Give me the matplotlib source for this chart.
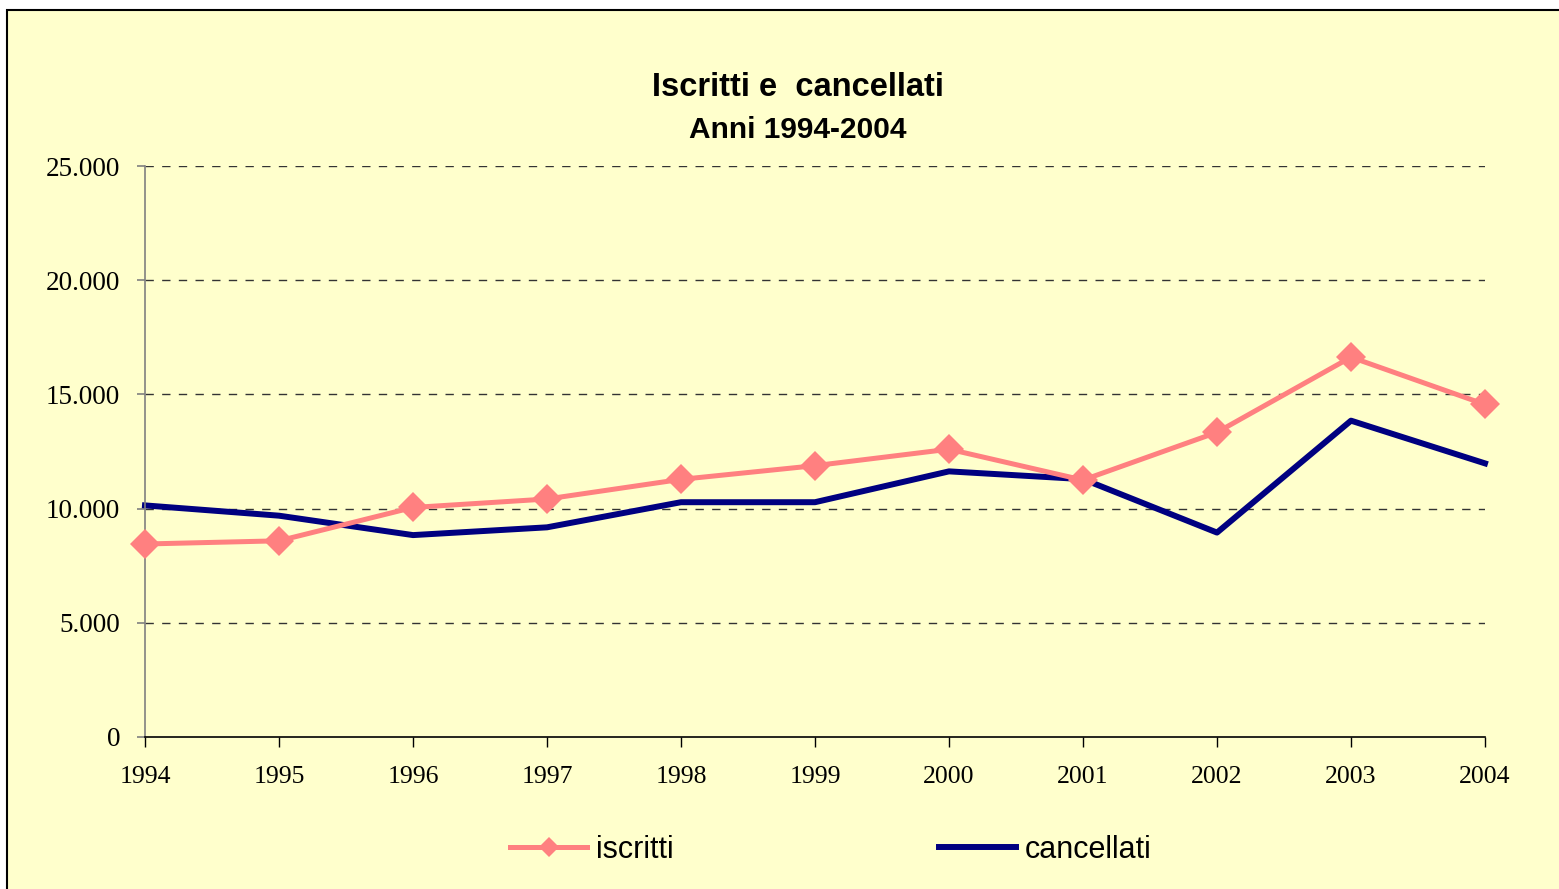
import matplotlib
matplotlib.use("Agg")
import matplotlib.pyplot as plt
from matplotlib.patches import Rectangle
from matplotlib.ticker import FuncFormatter

years = ["1994", "1995", "1996", "1997", "1998", "1999", "2000", "2001", "2002", "2003", "2004"]
iscritti = [8450, 8590, 10050, 10420, 11280, 11880, 12600, 11250, 13340, 16630, 14560]
cancellati = [10140, 9690, 8840, 9180, 10280, 10280, 11630, 11290, 8950, 13850, 11980]

BG = "#FFFFCC"
W, H = 1559, 889
fig = plt.figure(figsize=(W / 100, H / 100), dpi=100, facecolor="white")

# outer chart-area frame
fig.patches.append(Rectangle((7 / W, -0.1), 1.2, 0.1 + 1 - 10 / H, transform=fig.transFigure,
                             facecolor=BG, edgecolor="black", linewidth=1.5, zorder=-10))

ax = fig.add_axes([145 / W, 1 - 737 / H, (1485 - 145) / W, (737 - 166) / H])
ax.set_facecolor("none")

x = list(range(len(years)))
ax.plot(x, iscritti, color="#FF8080", linewidth=3.6, marker="D", markersize=15.5,
        markeredgewidth=0, label="iscritti", zorder=3, clip_on=False)
ax.plot(x, cancellati, color="#000080", linewidth=4.3, label="cancellati", zorder=2,
        clip_on=False)

ax.set_xlim(0, len(years) - 1)
ax.set_ylim(0, 25000)
ax.set_yticks(range(0, 25001, 5000))
ax.yaxis.set_major_formatter(FuncFormatter(lambda v, p: f"{int(v):,}".replace(",", ".")))
ax.set_xticks(x)
ax.set_xticklabels(years)

for v in range(5000, 25001, 5000):
    ax.axhline(v, color="#333333", linestyle=(0, (6, 6)), linewidth=1.0, zorder=1)

for s in ["top", "right"]:
    ax.spines[s].set_visible(False)
ax.spines["left"].set_color("#808080")
ax.spines["left"].set_linewidth(1.2)
ax.spines["bottom"].set_color("black")
ax.spines["bottom"].set_linewidth(1.2)

ax.tick_params(axis="y", direction="out", length=6, width=1.2, color="#808080", pad=12,
               labelsize=19.5, labelfontfamily="Liberation Serif")
ax.tick_params(axis="x", direction="out", length=7, width=1.0, color="black", pad=14,
               labelsize=18.5, labelfontfamily="Liberation Serif")

fig.text(798 / W, 1 - 88 / H, "Iscritti e  cancellati", ha="center", va="center",
         fontsize=23.5, fontweight="bold", family="Liberation Sans")
fig.text(798 / W, 1 - 130 / H, "Anni 1994-2004", ha="center", va="center",
         fontsize=21.5, fontweight="bold", family="Liberation Sans")

fig.legend(loc="center", bbox_to_anchor=(831 / W, 1 - 850 / H), ncol=2, frameon=False,
           prop={"family": "Liberation Sans", "size": 22}, handlelength=2.5,
           columnspacing=8.7, handletextpad=0.3, markerscale=0.65)

fig.savefig("out.png", dpi=100, facecolor="white")
